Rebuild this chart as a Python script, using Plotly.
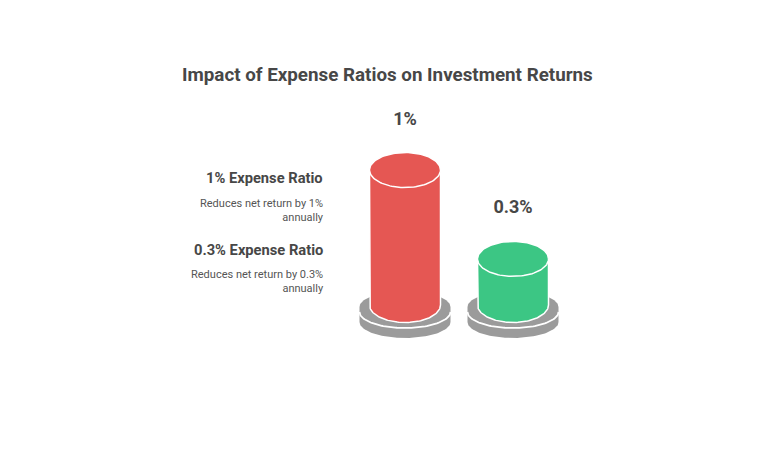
import numpy as np
import plotly.graph_objects as go

# data
categories = ["1% Expense Ratio", "0.3% Expense Ratio"]
expense_ratio = [1.0, 0.3]
value_labels = ["1%", "0.3%"]
descriptions = ["Reduces net return by 1%<br>annually",
                "Reduces net return by 0.3%<br>annually"]
bar_colors = ["#E55753", "#3CC684"]

W, H = 784, 461
# pixel scale of the axes (x: one category step, y: one percent)
PX_X = 108.0
PX_Y = 127.0
X0_PX = 405.0
Y0_PX = 297.0


def dx(px):
    return px / PX_X


def dy(px):
    return px / PX_Y


def ylev(px):
    # screen pixel row -> value-axis units
    return (Y0_PX - px) / PX_Y


def arc(cx, cy, rx, ry, t0, t1, n=80):
    t = np.linspace(t0, t1, n)
    return cx + rx * np.cos(t), cy + ry * np.sin(t)


fig = go.Figure()

RX_BODY = dx(35.5)
RY_TOP = dy(17.5)
BODY_BOTTOM = ylev(305)
RX_BASE = dx(45.5)
RY_BASE = dy(16)
GREY = "#9B9B9B"

for i, (val, col) in enumerate(zip(expense_ratio, bar_colors)):
    cx = i

    # lower base disk
    xa, ya = arc(cx, ylev(314), RX_BASE, RY_BASE, 0, np.pi)
    xb, yb = arc(cx, ylev(322), RX_BASE, RY_BASE, np.pi, 2 * np.pi)
    fig.add_trace(go.Scatter(x=np.r_[xa, xb], y=np.r_[ya, yb], fill="toself",
                             fillcolor=GREY, mode="lines", line=dict(width=0),
                             hoverinfo="skip", showlegend=False))
    # upper base disk
    xa, ya = arc(cx, ylev(307), RX_BASE, RY_BASE, 0, np.pi)
    xb, yb = arc(cx, ylev(312), RX_BASE, RY_BASE, np.pi, 2 * np.pi)
    fig.add_trace(go.Scatter(x=np.r_[xa, xb], y=np.r_[ya, yb], fill="toself",
                             fillcolor=GREY, mode="lines", line=dict(width=0),
                             hoverinfo="skip", showlegend=False))
    # white gap between the disks
    fig.add_trace(go.Scatter(x=xb, y=yb, mode="lines",
                             line=dict(color="white", width=1.8),
                             hoverinfo="skip", showlegend=False))

    # cylinder body
    xb, yb = arc(cx, BODY_BOTTOM, RX_BODY, RY_TOP, np.pi, 2 * np.pi)
    bx = np.r_[cx - RX_BODY, xb, cx + RX_BODY, cx - RX_BODY]
    by = np.r_[val, yb, val, val]
    fig.add_trace(go.Scatter(x=bx, y=by, fill="toself", fillcolor=col,
                             mode="lines", line=dict(color="white", width=1.5),
                             hoverinfo="skip", showlegend=False))
    # cylinder top
    xt, yt = arc(cx, val, RX_BODY, RY_TOP, 0, 2 * np.pi, 120)
    fig.add_trace(go.Scatter(x=xt, y=yt, fill="toself", fillcolor=col,
                             mode="lines", line=dict(color="white", width=1.5),
                             hoverinfo="skip", showlegend=False))

# value labels above the cylinders
fig.add_trace(go.Scatter(
    x=list(range(len(expense_ratio))),
    y=[v + dy(50) for v in expense_ratio],
    mode="text", text=value_labels,
    textfont=dict(family="Roboto", size=18, color="#474747", weight="bold"),
    hoverinfo="skip", showlegend=False))

annotations = [dict(
    text="Impact of Expense Ratios on Investment Returns",
    x=387.5 / W, y=1 - 75 / H, xref="paper", yref="paper",
    xanchor="center", yanchor="middle", showarrow=False,
    font=dict(family="Roboto", size=18.8, color="#474747", weight="bold"))]

head_rows = [178, 250]
desc_rows = [210, 281]
for name, desc, hy, ddy in zip(categories, descriptions, head_rows, desc_rows):
    annotations.append(dict(
        text=name, x=325 / W, y=1 - hy / H, xref="paper", yref="paper",
        xanchor="right", yanchor="middle", showarrow=False,
        font=dict(family="Roboto", size=14.7, color="#474747", weight="bold")))
    annotations.append(dict(
        text=desc, x=326 / W, y=1 - ddy / H, xref="paper", yref="paper",
        xanchor="right", yanchor="middle", align="right", showarrow=False,
        font=dict(family="Roboto", size=11, color="#555555")))

fig.update_layout(
    width=W, height=H,
    margin=dict(l=0, r=0, t=0, b=0),
    paper_bgcolor="white", plot_bgcolor="white",
    xaxis=dict(range=[-X0_PX / PX_X, (W - X0_PX) / PX_X], visible=False,
               fixedrange=True),
    yaxis=dict(range=[(Y0_PX - H) / PX_Y, Y0_PX / PX_Y], visible=False,
               fixedrange=True),
    annotations=annotations,
)

# page body has a default 8px margin; drop it so the figure fills the window
fig.write_html("out.html", config={"displayModeBar": False},
               post_script="document.body.style.margin='0';")
